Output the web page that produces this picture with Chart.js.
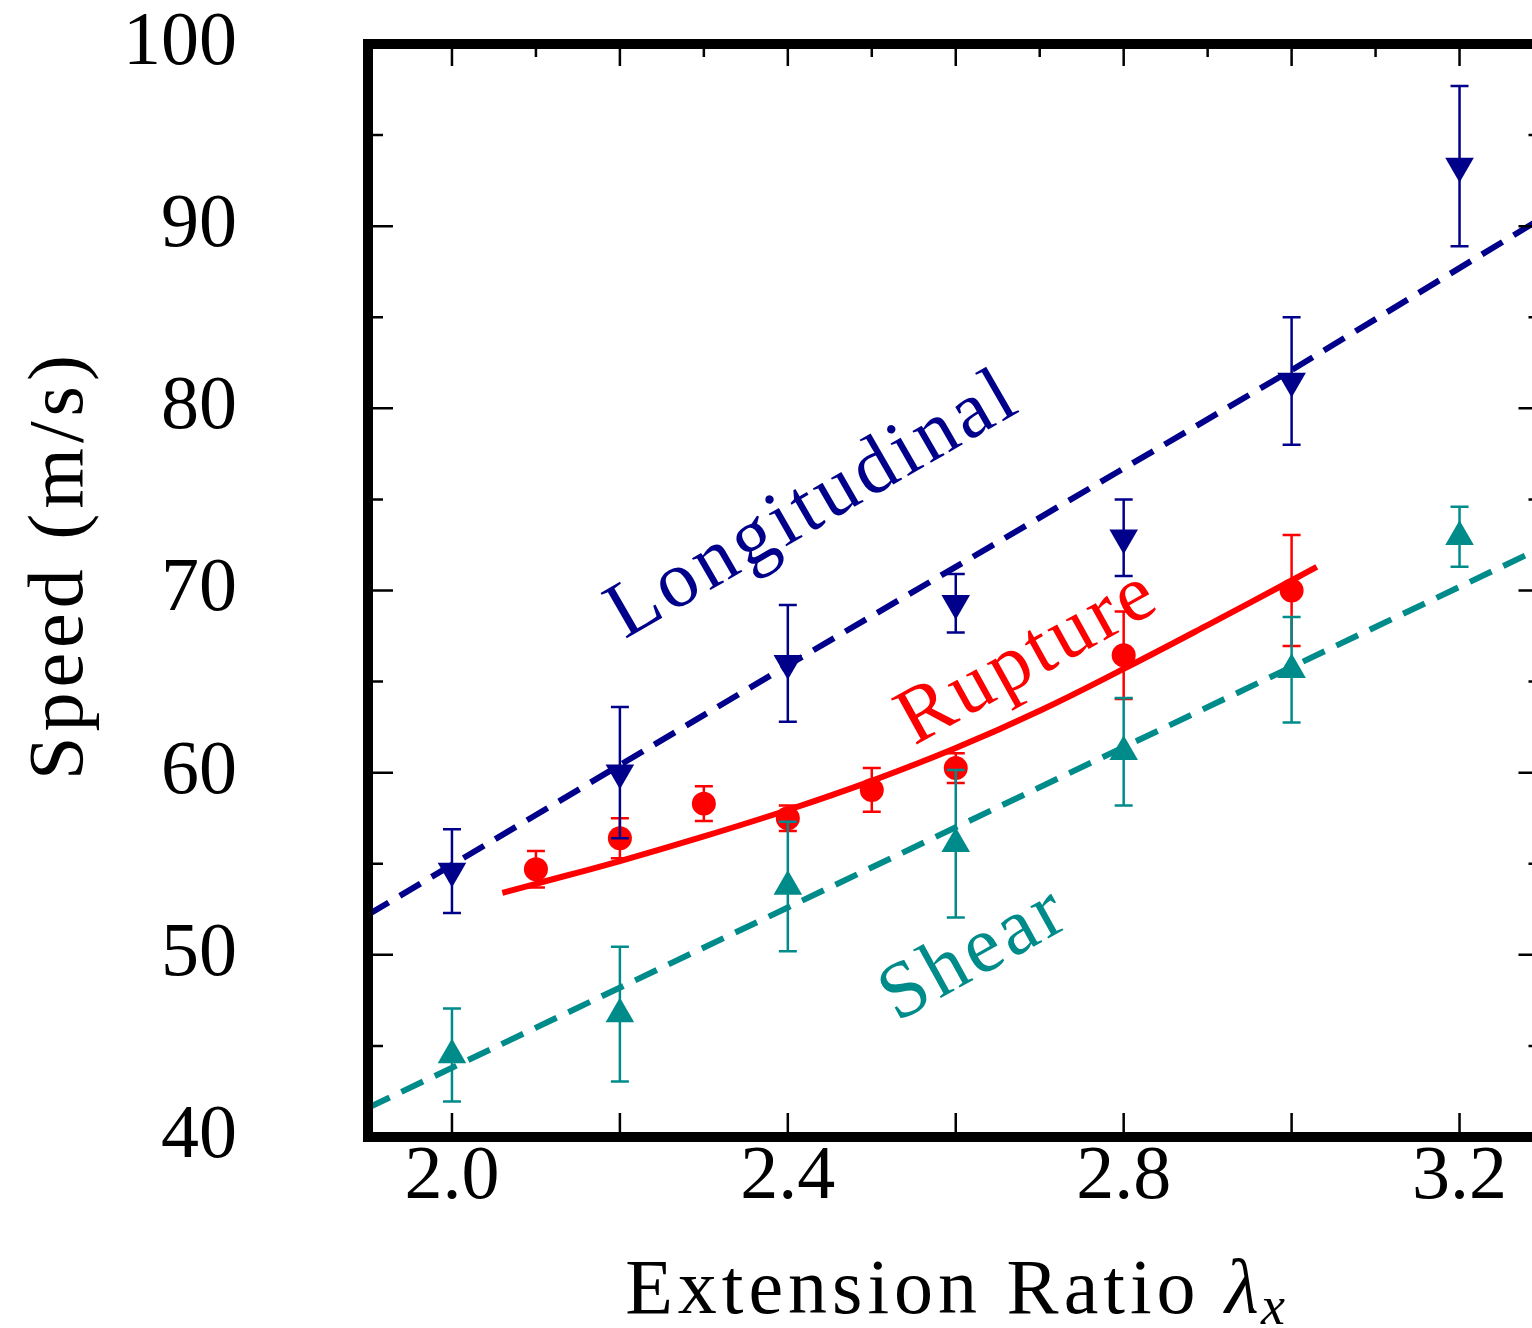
<!DOCTYPE html>
<html>
<head>
<meta charset="utf-8">
<script src="https://cdn.jsdelivr.net/npm/chart.js@4.4.1/dist/chart.umd.min.js"></script>
<style>
  html, body { margin: 0; padding: 0; background: #fff; overflow: hidden; }
  #wrap { width: 1532px; height: 1328px; overflow: hidden; }
</style>
</head>
<body>
<div id="wrap"><canvas id="speedChart" width="1560" height="1328"></canvas></div>
<script>
// measured longitudinal wave speeds
const longX = [2.0, 2.2, 2.4, 2.6, 2.8, 3.0, 3.2];
const longY = [54.6, 60.0, 66.0, 69.3, 72.9, 81.5, 93.3];
const longErr = [2.3, 3.6, 3.2, 1.6, 2.1, 3.5, 4.4];

// measured shear wave speeds
const shearX = [2.0, 2.2, 2.4, 2.6, 2.8, 3.0, 3.2];
const shearY = [44.5, 46.75, 53.75, 56.1, 61.15, 65.65, 72.95];
const shearErr = [2.55, 3.7, 3.55, 4.05, 2.95, 2.9, 1.65];

// measured rupture speeds
const ruptX = [2.1, 2.2, 2.3, 2.4, 2.5, 2.6, 2.8, 3.0];
const ruptY = [54.7, 56.4, 58.3, 57.5, 59.05, 60.25, 66.45, 70.0];
const ruptErr = [1.0, 1.1, 0.95, 0.7, 1.2, 0.82, 2.4, 3.05];

// theory curves
const longFitX = [1.9, 2.4, 3.0, 3.3];
const longFitY = [52.2, 65.9, 82.1, 90.5];
const shearFitX = [1.9, 2.4, 2.8, 3.3];
const shearFitY = [41.6, 52.6, 61.4, 72.4];
const ruptFitX = [2.06, 2.1, 2.2, 2.3, 2.4, 2.5, 2.6, 2.7, 2.8, 2.9, 3.0, 3.03];
const ruptFitY = [53.4, 53.9, 55.15, 56.5, 57.95, 59.55, 61.35, 63.4, 65.7, 68.1, 70.55, 71.3];

// axes
const xLabelTicks = [2.0, 2.4, 2.8, 3.2];
const yLabelTicks = [40, 50, 60, 70, 80, 90, 100];
const yMinorTicks = [45, 55, 65, 75, 85, 95];
const xTopMajor = [2.0, 2.2, 2.4, 2.6, 2.8, 3.0, 3.2];
const xTopMinor = [2.1, 2.3, 2.5, 2.7, 2.9, 3.1];
const xBottomTicks = [2.0, 2.2, 2.4, 2.6, 2.8, 3.0, 3.2];

const NAVY = '#00008B';
const TEAL = '#008B8B';
const RED = '#FF0000';
const SERIF = "'Liberation Serif', 'Times New Roman', serif";

const pts = (xs, ys) => xs.map((x, i) => ({ x: x, y: ys[i] }));

function spacedText(ctx, str, x, y, spacing) {
    ctx.letterSpacing = spacing + 'px';
    ctx.fillText(str, x, y);
    ctx.letterSpacing = '0px';
}

// vertical error bars with caps, drawn just under each marker set
const errorBars = {
    id: 'errorBars',
    beforeDatasetDraw(chart, args) {
        const ds = chart.data.datasets[args.index];
        if (!ds.yErr) return;
        const { ctx, chartArea: a, scales: { x, y } } = chart;
        ctx.save();
        ctx.beginPath();
        ctx.rect(a.left, a.top, a.right - a.left, a.bottom - a.top);
        ctx.clip();
        ctx.strokeStyle = ds.backgroundColor;
        ctx.lineWidth = 2.5;
        ds.data.forEach((p, i) => {
            const px = x.getPixelForValue(p.x);
            const top = y.getPixelForValue(p.y + ds.yErr[i]);
            const bot = y.getPixelForValue(p.y - ds.yErr[i]);
            ctx.beginPath();
            ctx.moveTo(px, top); ctx.lineTo(px, bot);
            ctx.moveTo(px - 9, top); ctx.lineTo(px + 9, top);
            ctx.moveTo(px - 9, bot); ctx.lineTo(px + 9, bot);
            ctx.stroke();
        });
        ctx.restore();
    }
};

// thick frame with inward ticks
const frame = {
    id: 'frame',
    afterDatasetsDraw(chart) {
        const { ctx, chartArea: a, scales: { x, y } } = chart;
        ctx.save();
        ctx.strokeStyle = '#000';
        ctx.lineWidth = 2.5;
        ctx.beginPath();
        yLabelTicks.forEach(v => {
            const py = y.getPixelForValue(v);
            ctx.moveTo(a.left, py); ctx.lineTo(a.left + 25, py);
            ctx.moveTo(a.right, py); ctx.lineTo(a.right - 25, py);
        });
        yMinorTicks.forEach(v => {
            const py = y.getPixelForValue(v);
            ctx.moveTo(a.left, py); ctx.lineTo(a.left + 15, py);
            ctx.moveTo(a.right, py); ctx.lineTo(a.right - 15, py);
        });
        xTopMajor.forEach(v => {
            const px = x.getPixelForValue(v);
            ctx.moveTo(px, a.top); ctx.lineTo(px, a.top + 22);
        });
        xTopMinor.forEach(v => {
            const px = x.getPixelForValue(v);
            ctx.moveTo(px, a.top); ctx.lineTo(px, a.top + 13);
        });
        xBottomTicks.forEach(v => {
            const px = x.getPixelForValue(v);
            ctx.moveTo(px, a.bottom); ctx.lineTo(px, a.bottom - 24);
        });
        ctx.stroke();
        ctx.lineWidth = 10;
        ctx.strokeRect(a.left, a.top, a.right - a.left, a.bottom - a.top);
        ctx.restore();
    }
};

// axis titles and curve names
const texts = {
    id: 'texts',
    afterDraw(chart) {
        const ctx = chart.ctx;
        ctx.save();
        ctx.fillStyle = '#000';
        ctx.textBaseline = 'alphabetic';

        // y title
        ctx.save();
        ctx.translate(82, 565);
        ctx.rotate(-Math.PI / 2);
        ctx.textAlign = 'center';
        ctx.font = '78px ' + SERIF;
        spacedText(ctx, 'Speed (m/s)', 0, 0, 5);
        ctx.restore();

        // x title with italic lambda and subscript
        const main = 'Extension Ratio ';
        ctx.textAlign = 'left';
        ctx.font = '78px ' + SERIF;
        ctx.letterSpacing = '5px';
        const w1 = ctx.measureText(main).width;
        ctx.letterSpacing = '0px';
        ctx.font = 'italic 78px ' + SERIF;
        const w2 = ctx.measureText('\u03bb').width;
        ctx.font = 'italic 54px ' + SERIF;
        const w3 = ctx.measureText('x').width;
        let x0 = 955 - (w1 + w2 + w3 + 2) / 2;
        const base = 1313;
        ctx.font = '78px ' + SERIF;
        spacedText(ctx, main, x0, base, 5);
        x0 += w1;
        ctx.font = 'italic 78px ' + SERIF;
        ctx.fillText('\u03bb', x0, base);
        x0 += w2 + 2;
        ctx.font = 'italic 54px ' + SERIF;
        ctx.fillText('x', x0, base + 11);

        // curve names
        const names = [
            { t: 'Longitudinal', c: NAVY, x: 814, y: 506, r: -30 },
            { t: 'Rupture', c: RED, x: 1029, y: 658, r: -29 },
            { t: 'Shear', c: TEAL, x: 975, y: 955, r: -29 }
        ];
        ctx.font = '80px ' + SERIF;
        ctx.textAlign = 'center';
        ctx.textBaseline = 'middle';
        names.forEach(n => {
            ctx.save();
            ctx.translate(n.x, n.y);
            ctx.rotate(n.r * Math.PI / 180);
            ctx.fillStyle = n.c;
            spacedText(ctx, n.t, 0, 0, 4);
            ctx.restore();
        });
        ctx.restore();
    }
};

new Chart(document.getElementById('speedChart'), {
    type: 'scatter',
    data: {
        datasets: [
            { data: pts(longFitX, longFitY), showLine: true, borderColor: NAVY, borderWidth: 6,
              borderDash: [24, 13], pointRadius: 0, order: 6 },
            { data: pts(shearFitX, shearFitY), showLine: true, borderColor: TEAL, borderWidth: 6,
              borderDash: [24, 13], pointRadius: 0, order: 5 },
            { data: pts(ruptFitX, ruptFitY), showLine: true, borderColor: RED, borderWidth: 6,
              tension: 0.4, pointRadius: 0, order: 4 },
            { data: pts(ruptX, ruptY), yErr: ruptErr, backgroundColor: RED, borderWidth: 0,
              pointStyle: 'circle', pointRadius: 12, order: 3 },
            { data: pts(longX, longY), yErr: longErr, backgroundColor: NAVY, borderWidth: 0,
              pointStyle: 'triangle', pointRotation: 180, pointRadius: 16.5, order: 2 },
            { data: pts(shearX, shearY), yErr: shearErr, backgroundColor: TEAL, borderWidth: 0,
              pointStyle: 'triangle', pointRadius: 16.5, order: 1 }
        ]
    },
    options: {
        responsive: false,
        animation: false,
        devicePixelRatio: 1,
        layout: { padding: { left: 0, right: 16, top: 44, bottom: 0 } },
        plugins: { legend: { display: false }, tooltip: { enabled: false } },
        scales: {
            x: {
                type: 'linear', min: 1.9, max: 3.3,
                grid: { display: false, drawTicks: false },
                border: { display: false },
                afterBuildTicks: s => { s.ticks = xLabelTicks.map(v => ({ value: v })); },
                afterFit: s => { s.height = 191; s.paddingLeft = 0; s.paddingRight = 0; },
                ticks: {
                    padding: 3, color: '#000',
                    font: { family: SERIF, size: 76, lineHeight: 1 },
                    maxRotation: 0,
                    callback: v => v.toFixed(1)
                }
            },
            y: {
                type: 'linear', min: 40, max: 100,
                grid: { display: false, drawTicks: false },
                border: { display: false },
                afterBuildTicks: s => { s.ticks = yLabelTicks.map(v => ({ value: v })); },
                afterFit: s => { s.width = 368; s.paddingTop = 0; s.paddingBottom = 0; },
                ticks: {
                    padding: 131, color: '#000',
                    font: { family: SERIF, size: 76, lineHeight: 1 },
                    callback: v => String(v)
                }
            }
        }
    },
    plugins: [errorBars, frame, texts]
});
</script>
</body>
</html>
